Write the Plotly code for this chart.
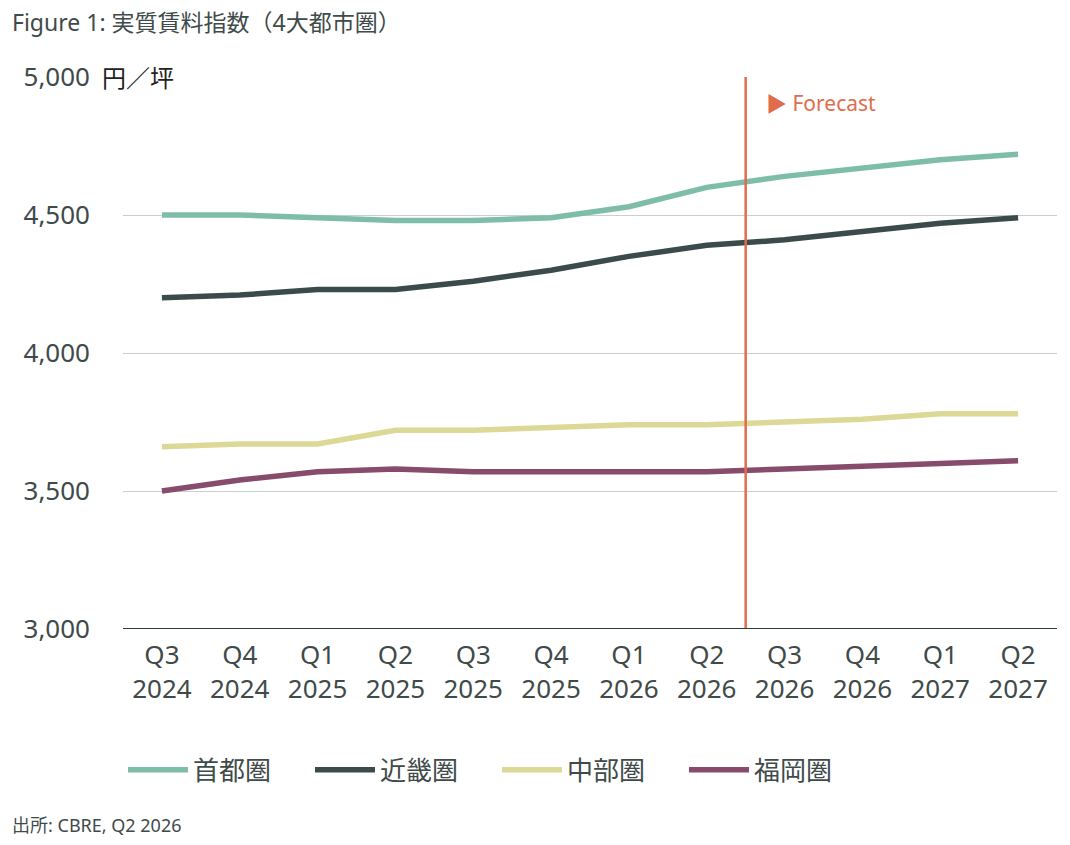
import plotly.graph_objects as go

quarters = ["Q3<br>2024", "Q4<br>2024", "Q1<br>2025", "Q2<br>2025", "Q3<br>2025", "Q4<br>2025",
            "Q1<br>2026", "Q2<br>2026", "Q3<br>2026", "Q4<br>2026", "Q1<br>2027", "Q2<br>2027"]

shuto = [4500, 4500, 4490, 4480, 4480, 4490, 4530, 4600, 4640, 4670, 4700, 4720]
kinki = [4200, 4210, 4230, 4230, 4260, 4300, 4350, 4390, 4410, 4440, 4470, 4490]
chubu = [3660, 3670, 3670, 3720, 3720, 3730, 3740, 3740, 3750, 3760, 3780, 3780]
fukuoka = [3500, 3540, 3570, 3580, 3570, 3570, 3570, 3570, 3580, 3590, 3600, 3610]

series_names = ["首都圏", "近畿圏", "中部圏", "福岡圏"]
series_colors = ["#7fbdab", "#3b4b4b", "#dcd996", "#874b6c"]

ytick_vals = [3000, 3500, 4000, 4500, 5000]
ytick_text = ["3,000", "3,500", "4,000", "4,500", "5,000"]

FONT = "Noto Sans, Noto Sans CJK JP"
TXT = "#3f4a4a"
ORANGE = "#df6d4b"

x_idx = list(range(len(quarters)))

fig = go.Figure()
for name, vals, col in zip(series_names, [shuto, kinki, chubu, fukuoka], series_colors):
    fig.add_trace(go.Scatter(x=x_idx, y=vals, name=name, mode="lines",
                             line=dict(color=col, width=5.5)))

# forecast divider between Q2 2026 and Q3 2026
fig.add_shape(type="line", xref="x", yref="paper", x0=7.5, x1=7.5, y0=0, y1=1,
              line=dict(color=ORANGE, width=2.5), layer="above")
fig.add_annotation(x=7.5, y=1, xref="x", yref="paper", xanchor="left", yanchor="top",
                   xshift=18, yshift=-10, text="▶ Forecast", showarrow=False,
                   font=dict(family=FONT, size=21, color=ORANGE))

# unit label next to the top tick
fig.add_annotation(xref="paper", yref="y", x=-0.025, y=5000, xanchor="left",
                   text="円／坪", showarrow=False, bgcolor="white", width=100, align="left",
                   font=dict(family=FONT, size=24, color="#222"))

fig.add_annotation(xref="paper", yref="paper", x=-0.121, y=1.10, xanchor="left", yanchor="middle",
                   text="Figure 1: 実質賃料指数（4大都市圏）", showarrow=False,
                   font=dict(family=FONT, size=23, color=TXT))
fig.add_annotation(xref="paper", yref="paper", x=-0.121, y=-0.355, xanchor="left", yanchor="middle",
                   text="出所: CBRE, Q2 2026", showarrow=False,
                   font=dict(family=FONT, size=18, color=TXT))

fig.update_layout(
    width=1070, height=845,
    margin=dict(l=115, r=21, t=69, b=224),
    paper_bgcolor="white", plot_bgcolor="white",
    font=dict(family=FONT, color=TXT, size=26),
    showlegend=True,
    legend=dict(orientation="h", x=0, xanchor="left", y=-0.255, yanchor="middle",
                itemwidth=60, entrywidth=112, font=dict(size=26, color=TXT),
                traceorder="normal"),
    xaxis=dict(range=[-0.5, 11.5], tickmode="array", tickvals=x_idx, ticktext=quarters,
               showgrid=False, zeroline=False, showline=False, ticks="",
               tickfont=dict(size=26, color=TXT), ticklabelstandoff=8),
    yaxis=dict(range=[3000, 5000], tickmode="array", tickvals=ytick_vals, ticktext=ytick_text,
               showgrid=True, gridcolor="#c9cfcf", gridwidth=1, zeroline=False, showline=False,
               ticks="", tickfont=dict(size=26, color=TXT), ticklabelstandoff=32),
)
fig.add_shape(type="line", xref="paper", yref="y", x0=0, x1=1, y0=3000, y1=3000,
              line=dict(color="#2f3c3c", width=2), layer="above")

fig.write_html("out.html")
